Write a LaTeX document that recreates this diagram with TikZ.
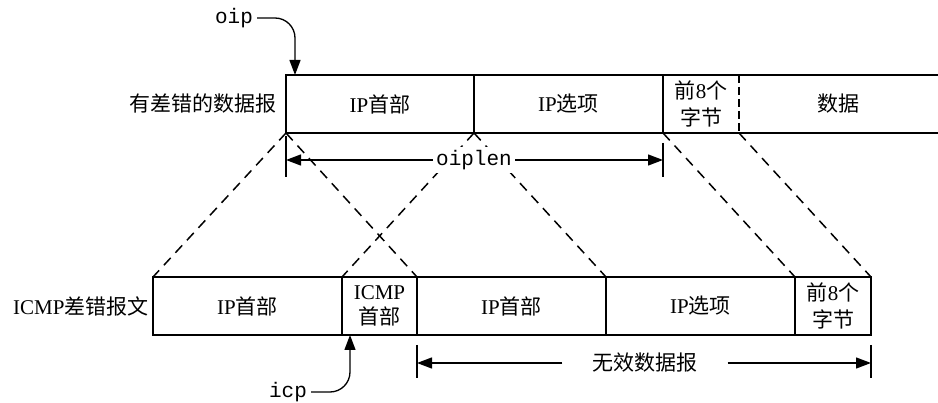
\documentclass[tikz,border=0pt]{standalone}
\usepackage{fontspec}
\setmainfont{Liberation Serif}
\setmonofont{Liberation Mono}
\newfontfamily\cjk{Noto Sans CJK SC}
\newcommand{\zh}[1]{{\cjk #1}}
\usetikzlibrary{arrows.meta, positioning, calc}

\begin{document}
\begin{tikzpicture}[x=1pt, y=-1pt,
    every node/.style={font=\fontsize{21}{25}\selectfont},
    field/.style={minimum height=58pt, inner sep=0pt, outer sep=0pt, align=center},
    boxed/.style={field, draw, line width=1.6pt},
    ptr/.style={font=\ttfamily\fontsize{21}{25}\selectfont, inner sep=4pt},
    map/.style={line width=1.5pt, dash pattern=on 10pt off 7pt},
    bar/.style={line width=1.6pt},
    tip/.style={line width=1.3pt, -{Triangle[length=15pt,width=11pt]}}]
      \useasboundingbox (0,0) rectangle (938,403);

      \node[boxed, minimum width=188pt] (ohdr) at (380,104) {IP\zh{首部}};
      \node[boxed, minimum width=189pt, right=0pt of ohdr] (oopt) {IP\zh{选项}};
      \node[field, minimum width=76pt, right=0pt of oopt] (ofirst) {\zh{前}8\zh{个}\\[2pt]\zh{字节}};
      \node[field, minimum width=199pt, right=0pt of ofirst] (odata) {\zh{数据}};
      \draw[bar] (oopt.north east) -- (odata.north east);
      \draw[bar] (oopt.south east) -- (odata.south east);
      \draw[bar, dash pattern=on 8pt off 4pt] (ofirst.north east) -- (ofirst.south east);
      \node[left=6pt of ohdr] (olabel) {\zh{有差错的数据报}};

      \node[boxed, minimum width=189pt] (ihdr) at (247.5,306) {IP\zh{首部}};
      \node[boxed, minimum width=75pt, right=0pt of ihdr] (icmph) {ICMP\\\zh{首部}};
      \node[boxed, minimum width=189pt, right=0pt of icmph] (ihdr2) {IP\zh{首部}};
      \node[boxed, minimum width=189pt, right=0pt of ihdr2] (iopt) {IP\zh{选项}};
      \node[boxed, minimum width=76pt, right=0pt of iopt] (ifirst) {\zh{前}8\zh{个}\\[2pt]\zh{字节}};
      \node[left=1pt of ihdr] (ilabel) {ICMP\zh{差错报文}};

      \draw[map] (ohdr.south west) -- (ihdr.north west);
      \draw[map] (ohdr.south west) -- (ihdr2.north west);
      \draw[map] (ohdr.south east) -- (icmph.north west);
      \draw[map] (ohdr.south east) -- (iopt.north west);
      \draw[map] (oopt.south east) -- (ifirst.north west);
      \draw[map] (ofirst.south east) -- (ifirst.north east);

      \node[ptr, inner sep=3pt, fill=white] (lenlbl) at (474,160) {oiplen};
      \coordinate (lenL) at (ohdr.south west |- lenlbl);
      \coordinate (lenR) at (oopt.south east |- lenlbl);
      \draw[bar] ($(ohdr.south west)+(0,3)$) -- ($(ohdr.south west)+(0,44)$);
      \draw[bar] ($(oopt.south east)+(0,10)$) -- ($(oopt.south east)+(0,44)$);
      \draw[tip] (lenlbl.west) -- (lenL);
      \draw[tip] (lenlbl.east) -- (lenR);

      \node[inner xsep=30pt] (badlbl) at (645,363) {\zh{无效数据报}};
      \coordinate (badL) at (ihdr2.south west |- badlbl);
      \coordinate (badR) at (ifirst.south east |- badlbl);
      \draw[bar] ($(ihdr2.south west)+(0,10)$) -- ($(ihdr2.south west)+(0,43)$);
      \draw[bar] ($(ifirst.south east)+(0,10)$) -- ($(ifirst.south east)+(0,43)$);
      \draw[tip] (badlbl.west) -- (badL);
      \draw[tip] (badlbl.east) -- (badR);

      \node[ptr] (oiplbl) at (234,18) {oip};
      \coordinate (oiptip) at ($(ohdr.north west)+(9,0)$);
      \draw[tip, rounded corners=20pt] (oiplbl.east) -| (oiptip);

      \node[ptr] (icplbl) at (288,392) {icp};
      \coordinate (icptip) at ($(icmph.south west)+(8,0)$);
      \draw[tip, rounded corners=20pt] (icplbl.east) -| (icptip);
    \end{tikzpicture}
\end{document}
